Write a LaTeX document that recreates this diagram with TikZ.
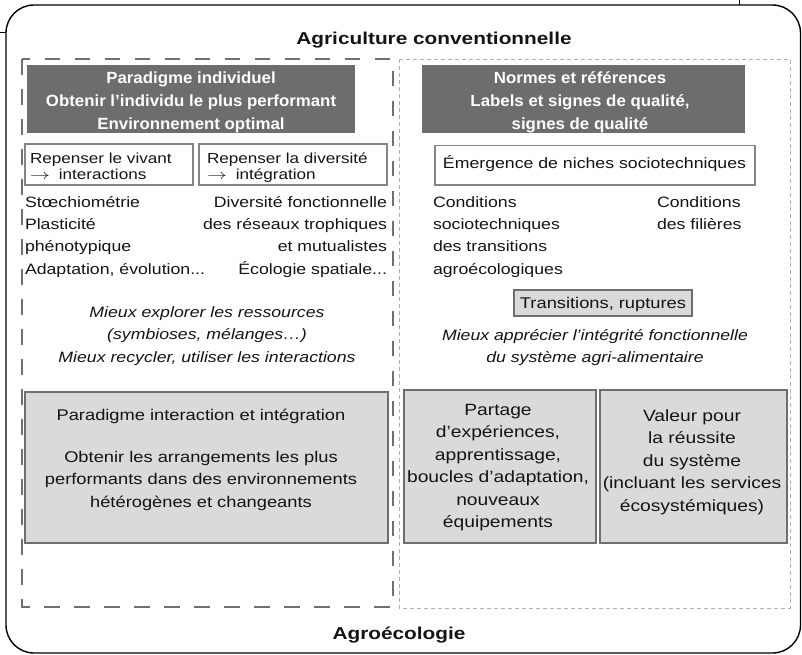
\documentclass[tikz,border=0pt]{standalone}
\usepackage{fontspec}
\setmainfont[FakeStretch=1.18]{Liberation Sans}
\newfontfamily\hdrfont[FakeStretch=1.04]{Liberation Sans}
\newfontfamily\ttlfont[FakeStretch=1.21]{Liberation Sans}
\usetikzlibrary{fit}
\definecolor{txtc}{HTML}{141414}
\definecolor{darkhdr}{HTML}{6D6D6D}
\definecolor{boxfill}{HTML}{DADADA}
\definecolor{boxline}{HTML}{6E6E6E}
\definecolor{smallline}{HTML}{858585}
\definecolor{leftdash}{HTML}{707070}
\definecolor{rightdash}{HTML}{B0B0B0}
\newcommand{\myarrow}{\scalebox{1.38}[1]{$\rightarrow$}\hspace{9pt}}
\begin{document}
\begin{tikzpicture}[x=1pt,y=-1pt,
  every node/.style={inner sep=0pt,outer sep=0pt},
  ttl/.style={font=\ttlfont\bfseries\fontsize{17.2}{20}\selectfont, text=txtc},
  hdr/.style={font=\hdrfont\bfseries\fontsize{16.2}{22.8}\selectfont, text=white, align=center},
  body/.style={font=\fontsize{15}{22.4}\selectfont, text=txtc},
  ital/.style={font=\itshape\fontsize{15}{22.6}\selectfont, text=txtc, align=center},
  smalltxt/.style={font=\fontsize{14.5}{16}\selectfont, text=txtc, align=left},
  darkbox/.style={fill=darkhdr, draw=none},
  smallbox/.style={draw=smallline, line width=1.1pt},
  greybox/.style={fill=boxfill, draw=boxline, line width=2.2pt},
  bottomtxt/.style={font=\fontsize{16.3}{22.5}\selectfont, text=txtc, align=center},
  leftframe/.style={draw=leftdash, line width=1.3pt, dash pattern=on 15.5pt off 14.5pt},
  rightframe/.style={draw=rightdash, line width=0.9pt, dash pattern=on 4pt off 3pt},
]
\useasboundingbox (0,0) rectangle (802,654);

% outer frame and small remnants
\draw[line width=1.4pt, rounded corners=28pt] (6,5) rectangle (800.5,653);
\draw[line width=1pt] (0,32) -- (6,32);
\draw[line width=1pt] (739,0) -- (739,5);

% titles
\node[ttl, anchor=base] (agc) at (434,44) {Agriculture conventionnelle};
\node[ttl, anchor=base] (agro) at (399,639) {Agroécologie};

% two column frames
\draw[leftframe] (22,59) rectangle (393,607);
\draw[rightframe] (399,59) rectangle (790,608);

% dark headers (multi-line nodes: base anchor = last line)
\node[darkbox, fit={(27,65) (355,133)}] (hdrL) {};
\node[hdr, anchor=base] (hdrLt) at (191,129) {Paradigme individuel\\Obtenir l’individu le plus performant\\Environnement optimal};
\node[darkbox, fit={(422,65) (745,133)}] (hdrR) {};
\node[hdr, anchor=base] (hdrRt) at (580,129) {Normes et références\\Labels et signes de qualité,\\signes de qualité};

% small boxes
\node[smallbox, fit={(25,144) (193,185)}] (rv) {};
\node[smalltxt, anchor=base west] (rvt) at (30,179) {Repenser le vivant\\\myarrow interactions};
\node[smallbox, fit={(199,144) (387,185)}] (rd) {};
\node[smalltxt, anchor=base west] (rdt) at (207,179) {Repenser la diversité\\\myarrow intégration};
\node[smallbox, fit={(435,145.7) (755,185)}] (em) {};
\node[body, anchor=base] (emt) at (594.5,168.5) {Émergence de niches sociotechniques};

% text columns
\node[body, align=left, anchor=base west] (colA) at (25,274.2) {Stœchiométrie\\Plasticité\\phénotypique\\Adaptation, évolution...};
\node[body, align=right, anchor=base east] (colB) at (387,274.2) {Diversité fonctionnelle\\des réseaux trophiques\\et mutualistes\\Écologie spatiale...};
\node[body, align=left, anchor=base west] (colC) at (433,274.2) {Conditions\\sociotechniques\\des transitions\\agroécologiques};
\node[body, align=left, anchor=base west] (colD) at (657,229.4) {Conditions\\des filières};

% transitions
\node[greybox, line width=2pt, fit={(514,290) (692,316)}] (tr) {};
\node[body, font=\fontsize{15.5}{18}\selectfont, anchor=base] (trt) at (603,308.5) {Transitions, ruptures};

% italic statements
\node[ital, anchor=base] (itL) at (207,362.2) {Mieux explorer les ressources\\(symbioses, mélanges…)\\Mieux recycler, utiliser les interactions};
\node[ital, anchor=base] (itR) at (595,362.6) {Mieux apprécier l’intégrité fonctionnelle\\du système agri-alimentaire};

% bottom boxes
\node[greybox, fit={(25,392) (388,543)}] (bL) {};
\node[bottomtxt, font=\fontsize{15.5}{22.5}\selectfont, anchor=base] (bLt) at (201,507) {Paradigme interaction et intégration\\[19.5pt]Obtenir les arrangements les plus\\performants dans des environnements\\hétérogènes et changeants};
\node[greybox, fit={(404,390) (596,543)}] (bM) {};
\node[bottomtxt, anchor=base] (bMt) at (498,527.5) {Partage\\d’expériences,\\apprentissage,\\boucles d’adaptation,\\nouveaux\\équipements};
\node[greybox, fit={(600,390) (787,543)}] (bR) {};
\node[bottomtxt, anchor=base] (bRt) at (692,511) {Valeur pour\\la réussite\\du système\\(incluant les services\\écosystémiques)};
\end{tikzpicture}
\end{document}
